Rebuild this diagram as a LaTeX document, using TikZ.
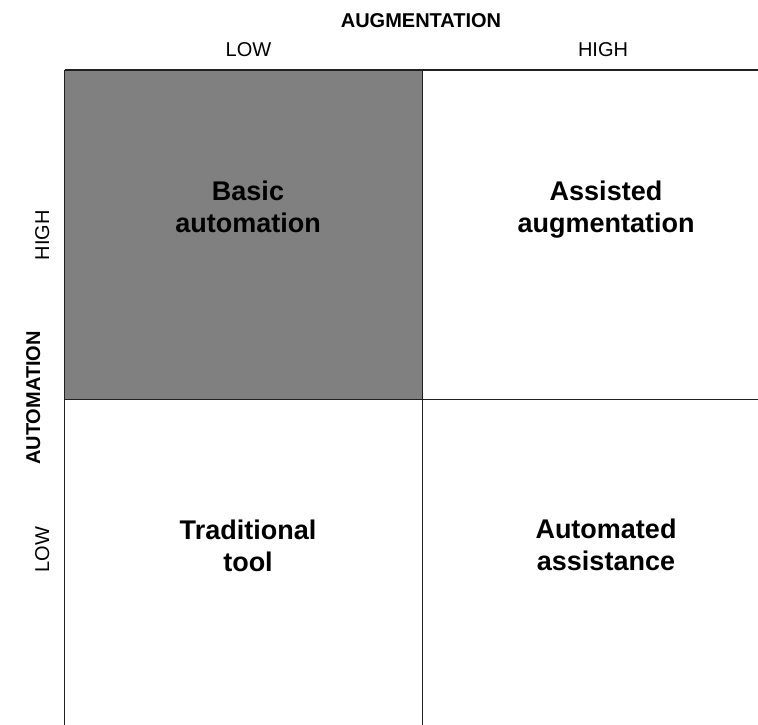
\documentclass[tikz,border=0pt]{standalone}
\usepackage{fontspec}
\setmainfont{Liberation Sans}
\definecolor{quadgray}{HTML}{808080}
\definecolor{gridline}{HTML}{202020}
\begin{document}
\begin{tikzpicture}[x=1pt,y=-1pt,
  gridstyle/.style={draw=gridline,line width=1.5pt},
  axislabel/.style={font=\fontsize{20}{24}\selectfont,inner sep=0pt,anchor=base},
  axistitle/.style={font=\fontsize{20}{24}\selectfont\bfseries,inner sep=0pt,anchor=base},
  quadtext/.style={font=\fontsize{27}{31.5}\selectfont\bfseries,align=center,inner sep=0pt,anchor=north}]
\useasboundingbox (0,0) rectangle (758,725);
% quadrant fill
\fill[quadgray] (64.5,70) rectangle (422.5,399.5);
% grid corners
\coordinate (tl) at (64.5,70);
\coordinate (tr) at (758,70);
\coordinate (bl) at (64.5,725);
\coordinate (tm) at (422.5,70);
\coordinate (bm) at (422.5,725);
\coordinate (ml) at (64.5,399.5);
\coordinate (mr) at (758,399.5);
\draw[gridstyle] (tl) -- (tr);
\draw[gridstyle] (tl) -- (bl);
\draw[gridstyle] (tm) -- (bm);
\draw[gridstyle] (ml) -- (mr);
% axis labels
\node[axistitle] (augt) at (421,28) {AUGMENTATION};
\node[axislabel] (auglow) at (248.5,57) {LOW};
\node[axislabel] (aughigh) at (603,57) {HIGH};
\node[axistitle,rotate=90] (autt) at (40,398) {AUTOMATION};
\node[axislabel,rotate=90] (authigh) at (49,235) {HIGH};
\node[axislabel,rotate=90] (autlow) at (49,549.5) {LOW};
% quadrant texts
\node[quadtext] (q1) at (248,181) {Basic\\automation};
\node[quadtext] (q2) at (606,181) {Assisted\\augmentation};
\node[quadtext] (q3) at (248,520) {Traditional\\tool};
\node[quadtext] (q4) at (606,519) {Automated\\assistance};
\end{tikzpicture}
\end{document}
